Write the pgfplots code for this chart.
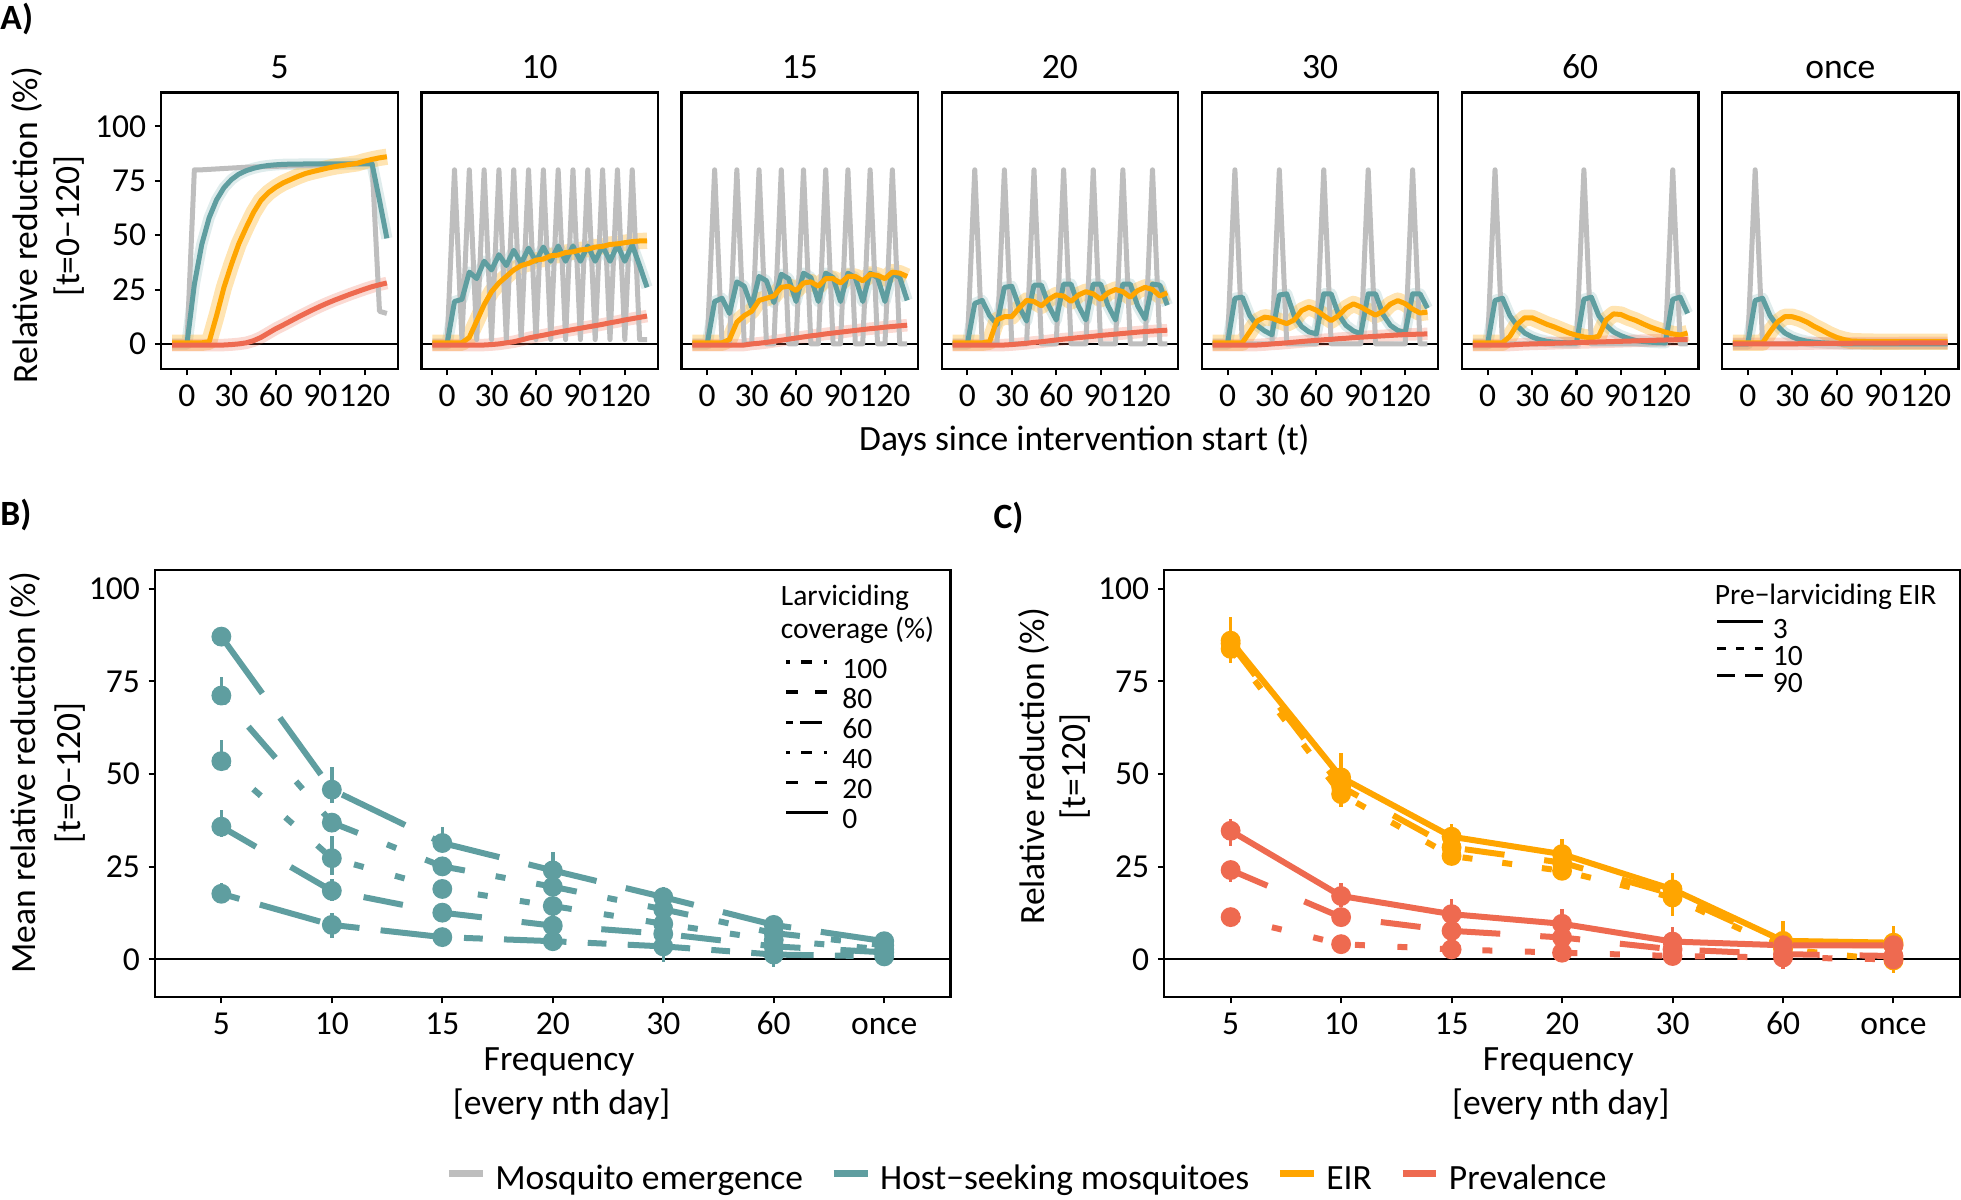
\documentclass[border=0pt]{standalone}
\usepackage{fontspec}
\setmainfont{Carlito}
\usepackage{pgfplots}
\usepackage{pgfplotstable}
\pgfplotsset{compat=1.18}

\definecolor{cgrey}{HTML}{BEBEBE}
\definecolor{cteal}{HTML}{5F9EA0}
\definecolor{corange}{HTML}{FFA500}
\definecolor{cred}{HTML}{EE6A50}

\newcommand{\fT}{\fontsize{14.2}{17}\selectfont}
\newcommand{\fK}{\fontsize{13.4}{16}\selectfont}
\newcommand{\fL}{\fontsize{11.8}{14}\selectfont}

% ---------- Panel A data: t, grey (emergence), h (host-seeking), e (EIR), p (prevalence)
\pgfplotstableread{
t g h e p
-10 0 0 0.5 -0.5
-5 0 0 0.5 -0.5
0 0 0 0.5 -0.5
5 80 27.4 0.5 -0.5
10 80 45.7 0.5 -0.5
15 80.2 58 1 -0.5
20 80.4 66.2 13 -0.5
25 80.6 71.8 26 -0.5
30 80.8 75.5 36.5 -0.3
35 81 78 46 0
40 81.2 79.6 53.5 0.5
45 81.3 80.7 60.5 1.5
50 81.4 81.5 66 3
55 81.5 82 69.5 5
60 81.6 82.3 72 7
65 81.7 82.5 74 8.7
70 81.8 82.6 75.5 10.5
75 81.9 82.6 77 12.3
80 82 82.7 78.3 14
85 82.1 82.7 79.2 15.7
90 82.2 82.7 80 17.3
95 82.3 82.7 80.8 18.8
100 82.4 82.7 81.5 20.2
105 82.5 82.7 82 21.5
110 82.6 82.7 82.5 22.8
115 82.7 82.7 83 24
120 82.8 82.7 84 25.2
125 82.9 82.7 84.8 26.3
130 15 66 85.5 27.2
135 14 48.5 86 28
}\tAa
\pgfplotstableread{
t g h e p
-10 0 0 0.5 -0.5
-5 0 0 0.5 -0.5
0 0 0 0.5 -0.5
5 80 19.5 0.5 -0.5
10 2 20.5 0.5 -0.5
15 80 33 3 -0.5
20 2 30 10.5 -0.5
25 80 38 18 -0.5
30 2 34 24 -0.3
35 80 41 28 0
40 2 36 31 0.5
45 80 43 34 1
50 2 37 36 1.8
55 80 44 37 2.7
60 2 38 38.5 3.4
65 80 44.5 39 4
70 2 38 40.5 4.7
75 80 45 40.8 5.4
80 2 38 42 6
85 80 45 42.3 6.6
90 2 38 43.2 7.2
95 80 45 43.5 7.8
100 2 38 44.5 8.4
105 80 45 44.8 9
110 2 38 45.7 9.7
115 80 45.5 46 10.3
120 2 38 46.5 11
125 80 45.5 47 11.6
130 2 36 47.3 12.2
135 2 26 47.4 12.8
}\tAb
\pgfplotstableread{
t g h e p
-10 0 0 0.5 -0.5
-5 0 0 0.5 -0.5
0 0 0 0.5 -0.5
5 80 19.5 0.5 -0.5
10 0 21 0.5 -0.5
15 0 14 2 -0.5
20 80 28.5 10 -0.5
25 0 26.5 13 -0.5
30 0 17 15 0
35 80 31 20 0.3
40 0 29 21 0.7
45 0 19 22 1.2
50 80 32 26 1.7
55 0 30 26.5 2.2
60 0 19.5 24.5 2.7
65 80 32.5 28 3.2
70 0 30.5 28.5 3.7
75 0 19.5 26.5 4.1
80 80 32.5 30 4.6
85 0 30.5 30 5
90 0 19.5 28 5.4
95 80 32.5 31 5.8
100 0 30.5 31 6.2
105 0 19.5 29 6.6
110 80 32.5 32 7
115 0 30.5 31.5 7.3
120 0 19.5 30 7.7
125 80 32.5 33 8
130 0 30.5 32.5 8.3
135 0 20 31 8.6
}\tAc
\pgfplotstableread{
t g h e p
-10 0 0 0.5 -0.5
-5 0 0 0.5 -0.5
0 0 0 0.5 -0.5
5 80 18.6 0.5 -0.5
10 0 20 0.5 -0.5
15 0 13 1 -0.5
20 0 9 11 -0.5
25 80 26 12.5 -0.5
30 0 26.5 12.5 -0.3
35 0 17 16.5 0
40 0 10.5 20 0.3
45 80 27 19.5 0.7
50 0 27 17.5 1
55 0 17.5 20.5 1.4
60 0 11 22.5 1.8
65 80 27.5 22 2.2
70 0 27.5 19.5 2.5
75 0 17.5 22.5 2.9
80 0 11 24 3.2
85 80 27.5 23 3.5
90 0 27.5 20.5 3.9
95 0 17.5 23.5 4.2
100 0 11 25 4.5
105 80 27.5 24 4.8
110 0 27.5 21.5 5.1
115 0 17.5 24.5 5.4
120 0 11.5 26 5.7
125 80 27.5 25 5.9
130 0 27 22 6.1
135 0 17.8 23.5 6.3
}\tAd
\pgfplotstableread{
t g h e p
-10 0 0 0.5 -0.5
-5 0 0 0.5 -0.5
0 0 0 0.5 -0.5
5 80 21 0.5 -0.5
10 0 21.5 0.5 -0.5
15 0 13 5.5 -0.5
20 0 8.5 10.5 -0.5
25 0 6 12.3 -0.3
30 0 4.2 11.8 0
35 80 22.5 10.5 0.2
40 0 23 9.3 0.5
45 0 13 11 0.8
50 0 8 15.3 1.1
55 0 5.5 16.9 1.4
60 0 4.6 15.5 1.6
65 80 23 13 1.9
70 0 23 10.7 2.1
75 0 13.5 13 2.4
80 0 8.5 16.5 2.6
85 0 6 18.4 2.9
90 0 4.6 17 3.1
95 80 23 15 3.3
100 0 23 13.2 3.5
105 0 13.5 15 3.7
110 0 8.5 18.3 3.9
115 0 6.2 19.9 4.1
120 0 5.2 18.5 4.3
125 80 23 16 4.4
130 0 23 14.2 4.5
135 0 16.4 14.6 4.6
}\tAe
\pgfplotstableread{
t g h e p
-10 0 0 0.5 -0.5
-5 0 0 0.5 -0.5
0 0 0 0.5 -0.5
5 80 20 0.5 -0.5
10 0 21 0.5 -0.5
15 0 13 3.5 -0.5
20 0 8.3 9 -0.3
25 0 5 12 -0.1
30 0 3.2 12 0
35 0 2 10.5 0.1
40 0 1.2 9 0.2
45 0 0.8 7.8 0.3
50 0 0.6 6.4 0.4
55 0 0.5 5 0.5
60 0 0.5 4 0.6
65 80 20.5 3.2 0.7
70 0 21.5 2.8 0.8
75 0 13 3.5 0.9
80 0 8.5 11 1
85 0 5.5 13.8 1.1
90 0 3.8 13.5 1.2
95 0 2.5 12 1.3
100 0 1.6 10.8 1.4
105 0 1.1 9.2 1.5
110 0 0.8 7.7 1.6
115 0 0.6 6.5 1.7
120 0 0.5 5.4 1.8
125 80 20.5 4.6 1.9
130 0 21.5 4.1 2
135 0 14 5 2
}\tAf
\pgfplotstableread{
t g h e p
-10 0 0 0.5 0
-5 0 0 0.5 0
0 0 0 0.5 0
5 80 20 0.5 0
10 0 21 0.5 0
15 0 13 5.5 0
20 0 8.3 10 0
25 0 5 12.5 0
30 0 3.2 12.5 0
35 0 2 11.5 0.1
40 0 1.2 10 0.1
45 0 0.8 8 0.2
50 0 0.5 6.3 0.2
55 0 0.3 4.5 0.2
60 0 0.2 3 0.3
65 0 0 2 0.3
70 0 0 1.3 0.3
80 0 0 1.1 0.4
90 0 0 1 0.4
100 0 0 1 0.4
110 0 0 1 0.5
120 0 0 1 0.5
135 0 0 1 0.5
}\tAg

% ---------- Panel B data (x = 5,10,15,20,30,60,once)
\pgfplotstableread{
x s1 p1 m1 s2 p2 m2 s3 p3 m3 s4 p4 m4 s5 p5 m5
0 87.1 0.8 0.8 71.2 5 1.8 53.5 5.7 1.8 35.8 4.5 2.9 17.7 3 2
1 45.8 6 3.5 36.9 2 1.8 27.3 6 4.4 18.5 3.3 2.8 9.3 3.1 3.5
2 31.4 4.2 2.4 25.1 2.5 2.5 19 2.5 2.5 12.6 2.6 2.4 6 1 1
3 24 5 4 19.6 2 2 14.4 2.5 2.5 9.1 3 3 4.9 2.5 2.7
4 16.8 2.8 3.3 13.5 2 2 9.6 3 3 6.9 2 2 3.5 3.4 4.2
5 9.3 1 1 7.1 1 1 5.2 1 1 3.5 1 1 1.3 1 3.3
6 4.9 1 1 3.8 1 1 2.7 1 1 1.9 1 1 0.8 1 1
}\tB

% ---------- Panel C data
\pgfplotstableread{
x ea eap eam eb ebp ebm ec ecp ecm pa pap pam pb pbp pbm pc pcp pcm
0 86 6.5 6 85.2 3 3 83.8 2 2 34.7 3.2 4 24.1 2 3.3 11.4 1.5 1.5
1 49.1 6.5 5 46.6 3 3 44.6 2 3.5 17.1 3.6 3 11.4 2 2 4.1 1.5 1.5
2 33.1 3.4 3.8 30.2 2 2 27.9 2 2 12.2 4 2.5 7.7 2 2 2.7 1 1
3 28.4 4 3 26.1 2 2 23.9 2 2 9.6 3.9 3 5.9 1.5 1.5 1.8 1 1
4 18.9 4.5 4 17.6 2 2 16.7 2 5 4.8 3.8 3.5 2.7 1 1 0.9 1.5 1.5
5 5 5.4 4 4 1.5 1.5 2.8 1 1 3.8 1 1 1.4 1 1 0.5 1 3
6 4.5 4.5 4 3.8 1.5 1.5 -0.3 1 3.5 3.8 1 1 0.9 1 1 0 1 1
}\tC

\pgfplotsset{
  base/.style={
    scale only axis, anchor=south west,
    axis line style={black, line width=0.9pt},
    tick style={black, line width=0.8pt},
    major tick length=2.6pt,
    tick align=outside,
    tick pos=left,
    /pgf/number format/assume math mode=true,
    ticklabel style={font=\fK},
    xticklabel style={text height=9pt, text depth=0pt},
  },
  panelA/.style={base, width=94.5pt, height=110.5pt,
    xmin=-17.3, xmax=142.3, ymin=-11.5, ymax=115.5,
    xtick={0,30,60,90,120}, ytick={0,25,50,75,100},
    title style={at={(0.5,1)}, anchor=base, yshift=-0.5pt, font=\fT, inner sep=0pt},
  },
  panelBC/.style={base, width=318pt, height=170.5pt,
    xmin=-0.6, xmax=6.6, ymin=-10.1, ymax=105,
    xtick={0,1,2,3,4,5,6}, xticklabels={5,10,15,20,30,60,once},
    ytick={0,25,50,75,100},
  },
  sG/.style={cgrey, line width=2pt, line join=round},
  sH/.style={cteal, line width=2pt, line join=round},
  sE/.style={corange, line width=2pt, line join=round},
  sP/.style={cred, line width=2pt, line join=round},
  rH/.style={cteal, line width=4.5pt, opacity=0.2, line join=round},
  rE/.style={corange, line width=6.5pt, opacity=0.3, line join=round},
  rP/.style={cred, line width=5pt, opacity=0.25, line join=round},
  ptB/.style={line width=2.4pt, mark=*, mark size=2.75pt, forget plot,
    error bars/.cd, y dir=both, y explicit, error mark=none,
    error bar style={solid, line width=1.4pt}},
}

\newcommand{\Aseries}[1]{%
  \addplot[black, line width=1pt] coordinates {(-20,0) (150,0)};
  \addplot[rH] table[x=t,y=h]{#1};
  \addplot[rE] table[x=t,y=e]{#1};
  \addplot[rP] table[x=t,y=p]{#1};
  \addplot[sG] table[x=t,y=g]{#1};
  \addplot[sH] table[x=t,y=h]{#1};
  \addplot[sE] table[x=t,y=e]{#1};
  \addplot[sP] table[x=t,y=p]{#1};
}

\begin{document}
\begin{tikzpicture}
\path[use as bounding box] (0pt,0pt) rectangle (784pt,-479.5pt);

% ================= Panel A =================
\begin{axis}[panelA, at={(64.5pt,-147.5pt)}, title={5}]
\Aseries{\tAa}
\end{axis}
\begin{axis}[panelA, at={(168.5pt,-147.5pt)}, title={10}, ytick=\empty]
\Aseries{\tAb}
\end{axis}
\begin{axis}[panelA, at={(272.5pt,-147.5pt)}, title={15}, ytick=\empty]
\Aseries{\tAc}
\end{axis}
\begin{axis}[panelA, at={(376.5pt,-147.5pt)}, title={20}, ytick=\empty]
\Aseries{\tAd}
\end{axis}
\begin{axis}[panelA, at={(480.5pt,-147.5pt)}, title={30}, ytick=\empty]
\Aseries{\tAe}
\end{axis}
\begin{axis}[panelA, at={(584.5pt,-147.5pt)}, title={60}, ytick=\empty]
\Aseries{\tAf}
\end{axis}
\begin{axis}[panelA, at={(688.5pt,-147.5pt)}, title={once}, ytick=\empty]
\Aseries{\tAg}
\end{axis}

% ================= Panel B =================
\begin{axis}[panelBC, at={(62pt,-398.5pt)},
  legend cell align=left,
  legend style={at={(0.7909,0.7965)}, anchor=north west, draw=none, fill=none,
    inner sep=0pt, row sep=0pt, font=\fL,
    nodes={inner sep=0pt, text height=8.5pt, text depth=3.5pt},
    /tikz/every odd column/.append style={column sep=5.3pt}},
  legend image code/.code={\draw[#1, line width=1.3pt] (0pt,4.2pt) -- (16.5pt,4.2pt);}]
\addplot[black, line width=0.7pt, forget plot] coordinates {(-1,0) (7,0)};
\addplot[cteal, mark options={solid, draw=none, fill=cteal}, dash pattern=on 28pt off 12pt, ptB, error bar style={cteal}]
  table[x=x, y=s1, y error plus=p1, y error minus=m1]{\tB};
\addplot[cteal, mark options={solid, draw=none, fill=cteal}, dash pattern=on 4pt off 12.5pt on 16.5pt off 12.5pt, ptB, error bar style={cteal}]
  table[x=x, y=s2, y error plus=p2, y error minus=m2]{\tB};
\addplot[cteal, mark options={solid, draw=none, fill=cteal}, dash pattern=on 4pt off 13pt, ptB, error bar style={cteal}]
  table[x=x, y=s3, y error plus=p3, y error minus=m3]{\tB};
\addplot[cteal, mark options={solid, draw=none, fill=cteal}, dash pattern=on 16pt off 16pt, ptB, error bar style={cteal}]
  table[x=x, y=s4, y error plus=p4, y error minus=m4]{\tB};
\addplot[cteal, mark options={solid, draw=none, fill=cteal}, dash pattern=on 7.5pt off 8.5pt on 25pt off 8.5pt, ptB, error bar style={cteal}]
  table[x=x, y=s5, y error plus=p5, y error minus=m5]{\tB};
\addlegendimage{black, dash pattern=on 1.3pt off 4.6pt on 4.5pt off 4.6pt}
\addlegendentry{100}
\addlegendimage{black, dash pattern=on 4.7pt off 6.8pt}
\addlegendentry{80}
\addlegendimage{black, dash pattern=on 2.7pt off 2.7pt on 8.7pt off 10pt}
\addlegendentry{60}
\addlegendimage{black, dash pattern=on 1.3pt off 4.6pt on 4.5pt off 4.6pt}
\addlegendentry{40}
\addlegendimage{black, dash pattern=on 4.7pt off 6.8pt}
\addlegendentry{20}
\addlegendimage{black}
\addlegendentry{0}
\end{axis}

% ================= Panel C =================
\begin{axis}[panelBC, at={(465.5pt,-398.5pt)},
  legend cell align=left,
  legend style={at={(0.6926,0.8874)}, anchor=north west, draw=none, fill=none,
    inner sep=0pt, row sep=0pt, font=\fL,
    nodes={inner sep=0pt, text height=7.8pt, text depth=3pt},
    /tikz/every odd column/.append style={column sep=3.3pt}},
  legend image code/.code={\draw[#1, line width=1.3pt] (0pt,4.2pt) -- (18.2pt,4.2pt);}]
\addplot[black, line width=0.7pt, forget plot] coordinates {(-1,0) (7,0)};
\addplot[corange, mark options={solid, draw=none, fill=corange}, ptB, error bar style={corange}]
  table[x=x, y=ea, y error plus=eap, y error minus=eam]{\tC};
\addplot[corange, mark options={solid, draw=none, fill=corange}, dash pattern=on 16pt off 16pt, ptB, error bar style={corange}]
  table[x=x, y=eb, y error plus=ebp, y error minus=ebm]{\tC};
\addplot[corange, mark options={solid, draw=none, fill=corange}, dash pattern=on 4pt off 12pt, ptB, error bar style={corange}]
  table[x=x, y=ec, y error plus=ecp, y error minus=ecm]{\tC};
\addplot[cred, mark options={solid, draw=none, fill=cred}, ptB, error bar style={cred}]
  table[x=x, y=pa, y error plus=pap, y error minus=pam]{\tC};
\addplot[cred, mark options={solid, draw=none, fill=cred}, dash pattern=on 16pt off 16pt, ptB, error bar style={cred}]
  table[x=x, y=pb, y error plus=pbp, y error minus=pbm]{\tC};
\addplot[cred, mark options={solid, draw=none, fill=cred}, dash pattern=on 4pt off 13pt, ptB, error bar style={cred}]
  table[x=x, y=pc, y error plus=pcp, y error minus=pcm]{\tC};
\addlegendimage{black}
\addlegendentry{3}
\addlegendimage{black, dash pattern=on 3.3pt off 4.15pt}
\addlegendentry{10}
\addlegendimage{black, dash pattern=on 7pt off 4.2pt}
\addlegendentry{90}
\end{axis}

% ================= Labels and bottom legend =================
\begin{axis}[hide axis, scale only axis, anchor=south west, at={(0pt,-479.5pt)},
  width=784pt, height=479.5pt, xmin=0, xmax=784, ymin=-479.5, ymax=0, clip=false,
  legend columns=4, legend cell align=left,
  legend style={at={(axis cs:178,-472.5)}, anchor=west, draw=none, fill=none,
    inner sep=0pt, font=\fT,
    nodes={inner sep=0pt, text height=9pt, text depth=3pt},
    /tikz/every odd column/.append style={column sep=3.8pt},
    /tikz/every even column/.append style={column sep=11pt}},
  legend image code/.code={\draw[#1, line width=2.5pt] (0pt,3.3pt) -- (13.5pt,3.3pt);}]
\addlegendimage{cgrey}\addlegendentry{Mosquito emergence}
\addlegendimage{cteal}\addlegendentry{Host−seeking mosquitoes}
\addlegendimage{corange}\addlegendentry{EIR}
\addlegendimage{cred}\addlegendentry{Prevalence}

\node[font=\fT\bfseries, anchor=west, inner sep=0pt] at (axis cs:0,-7.5) {A)};
\node[font=\fT\bfseries, anchor=west, inner sep=0pt] at (axis cs:0,-206) {B)};
\node[font=\fT\bfseries, anchor=west, inner sep=0pt] at (axis cs:397,-207) {C)};

\node[font=\fT] at (axis cs:433.5,-176) {Days since intervention start (t)};
\node[font=\fT, rotate=90] at (axis cs:10.7,-90) {Relative reduction (\%)};
\node[font=\fT, rotate=90] at (axis cs:27.7,-90.5) {[t=0−120]};

\node[font=\fT, rotate=90] at (axis cs:10,-309) {Mean relative reduction (\%)};
\node[font=\fT, rotate=90] at (axis cs:28,-309) {[t=0−120]};
\node[font=\fT] at (axis cs:223.5,-424.5) {Frequency};
\node[font=\fT] at (axis cs:224.5,-441.5) {[every nth day]};

\node[font=\fT, rotate=90] at (axis cs:413.3,-306.4) {Relative reduction (\%)};
\node[font=\fT, rotate=90] at (axis cs:430,-306.5) {[t=120]};
\node[font=\fT] at (axis cs:623,-424.5) {Frequency};
\node[font=\fT] at (axis cs:624,-441.5) {[every nth day]};

\node[font=\fL, anchor=west, inner sep=0pt] at (axis cs:312,-239) {Larviciding};
\node[font=\fL, anchor=west, inner sep=0pt] at (axis cs:312,-252) {coverage (\%)};
\node[font=\fL, anchor=west, inner sep=0pt] at (axis cs:685.4,-238.5) {Pre−larviciding EIR};
\end{axis}
\end{tikzpicture}
\end{document}
